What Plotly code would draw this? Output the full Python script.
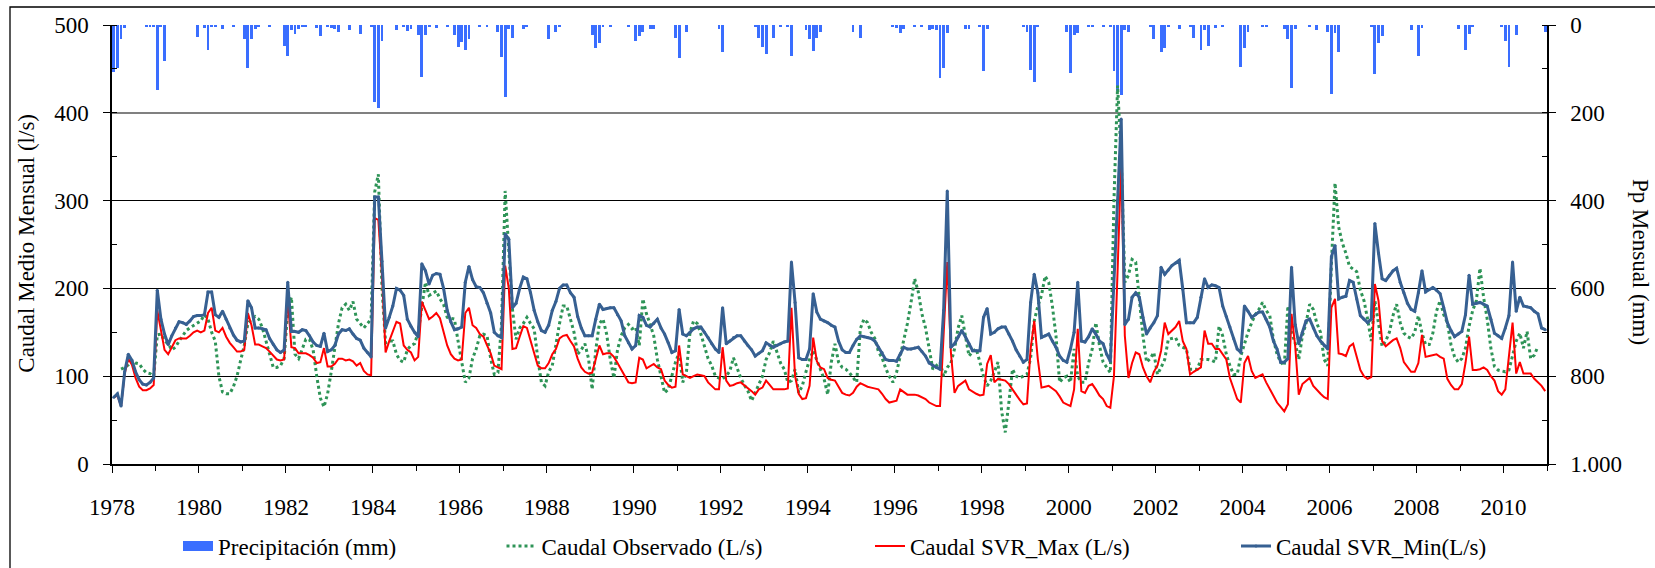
import plotly.graph_objects as go

# ---------------------------------------------------------------
# Monthly series, January 1978 - December 2010 (12 values per row)
# ---------------------------------------------------------------
years = list(range(1978, 2011))
month_pos = [y + (m + 0.5) / 12 for y in years for m in range(12)]

x_tick_years = list(range(1978, 2011, 2))
pp_tick_vals = [0, 200, 400, 600, 800, 1000]
pp_tick_text = ["0", "200", "400", "600", "800", "1.000"]

# Precipitación mensual (mm)
precip_mm = [
    107, 99, 33, 7, 0, 0, 0, 0, 0, 4, 4, 4,          # 1978
    149, 4, 83, 0, 0, 0, 0, 0, 0, 0, 0, 27,          # 1979
    0, 7, 58, 4, 4, 0, 10, 0, 0, 4, 0, 0,            # 1980
    31, 97, 33, 8, 4, 0, 0, 4, 0, 0, 0, 48,          # 1981
    70, 12, 21, 8, 4, 3, 0, 0, 6, 25, 0, 4,          # 1982
    7, 8, 15, 0, 0, 12, 0, 0, 20, 0, 0, 3,           # 1983
    176, 190, 37, 0, 0, 0, 11, 0, 5, 13, 8, 0,       # 1984
    23, 118, 23, 4, 0, 6, 0, 0, 3, 0, 23, 49,        # 1985
    38, 57, 32, 0, 0, 4, 0, 4, 0, 0, 17, 72,         # 1986
    165, 9, 29, 0, 0, 9, 4, 0, 0, 0, 0, 0,           # 1987
    33, 0, 15, 5, 0, 0, 0, 0, 0, 0, 0, 0,            # 1988
    23, 53, 40, 4, 0, 4, 0, 0, 0, 0, 4, 0,           # 1989
    37, 24, 15, 0, 9, 8, 0, 0, 0, 0, 0, 30,          # 1990
    76, 0, 15, 0, 0, 0, 0, 0, 0, 0, 0, 9,            # 1991
    61, 0, 0, 0, 0, 0, 0, 0, 0, 4, 29, 49,           # 1992
    65, 0, 30, 0, 4, 0, 4, 70, 0, 0, 0, 11,          # 1993
    32, 59, 30, 17, 0, 0, 0, 0, 0, 0, 0, 0,          # 1994
    17, 0, 29, 0, 0, 0, 0, 0, 0, 0, 0, 4,            # 1995
    6, 19, 9, 0, 0, 3, 0, 4, 0, 11, 8, 11,           # 1996
    120, 97, 19, 0, 0, 0, 0, 8, 10, 0, 0, 4,         # 1997
    105, 9, 0, 0, 0, 0, 0, 0, 0, 0, 0, 4,            # 1998
    15, 103, 129, 4, 0, 0, 0, 0, 0, 0, 0, 15,        # 1999
    110, 23, 19, 0, 0, 4, 4, 0, 0, 4, 0, 4,          # 2000
    105, 150, 160, 12, 15, 0, 0, 0, 0, 0, 4, 32,     # 2001
    0, 62, 53, 4, 0, 0, 9, 0, 0, 4, 29, 0,           # 2002
    57, 11, 47, 0, 6, 0, 5, 0, 0, 0, 0, 95,          # 2003
    53, 17, 0, 0, 0, 4, 5, 0, 0, 0, 0, 9,            # 2004
    32, 143, 8, 0, 0, 0, 4, 0, 11, 0, 0, 15,         # 2005
    158, 19, 62, 0, 0, 0, 0, 0, 0, 0, 0, 4,          # 2006
    112, 41, 25, 0, 0, 0, 0, 0, 0, 0, 12, 0,         # 2007
    70, 7, 0, 0, 0, 0, 0, 0, 0, 0, 0, 8,             # 2008
    0, 58, 21, 4, 0, 0, 0, 0, 0, 0, 0, 4,            # 2009
    37, 95, 0, 22, 0, 0, 0, 0, 0, 0, 0, 15,          # 2010
]

# Caudal observado (L/s)
caudal_observado = [
    None, None, 108, 110, 113, 118, 115, 114, 108, 104, 103, 100,   # 1978
    147, 148, 140, 137, 130, 133, 140, 146, 152, 155, 158, 160,     # 1979
    163, 170, 165, 150, 140, 100, 82, 80, 80, 88, 100, 118,         # 1980
    135, 160, 165, 168, 165, 155, 140, 122, 110, 110, 112, 120,     # 1981
    175, 190, 125, 120, 130, 142, 142, 130, 100, 75, 65, 80,        # 1982
    105, 130, 160, 178, 182, 175, 185, 165, 160, 155, 160, 165,     # 1983
    310, 330, 200, 138, 140, 140, 125, 118, 116, 130, 135, 137,     # 1984
    150, 180, 207, 192, 195, 197, 188, 182, 167, 166, 165, 140,     # 1985
    117, 93, 98, 120, 131, 146, 148, 146, 120, 102, 104, 160,       # 1986
    311, 245, 176, 142, 155, 160, 167, 160, 154, 120, 93, 89,       # 1987
    105, 112, 138, 160, 180, 180, 165, 150, 125, 130, 137, 120,     # 1988
    85, 130, 160, 165, 148, 119, 98, 130, 146, 155, 159, 154,       # 1989
    156, 135, 188, 171, 159, 146, 119, 100, 81, 85, 100, 116,       # 1990
    127, 93, 104, 150, 163, 160, 148, 135, 120, 112, 100, 98,       # 1991
    97, 100, 106, 121, 110, 98, 90, 83, 72, 81, 90, 100,            # 1992
    119, 127, 140, 127, 115, 108, 93, 95, 108, 81, 89, 105,         # 1993
    119, 129, 119, 108, 97, 79, 116, 137, 116, 110, 108, 104,       # 1994
    98, 93, 154, 165, 161, 150, 143, 128, 121, 109, 100, 93,        # 1995
    104, 123, 145, 160, 184, 211, 196, 171, 155, 130, 108, 112,     # 1996
    116, 100, 110, 115, 131, 155, 169, 146, 123, 128, 131, 116,     # 1997
    100, 89, 95, 105, 116, 60, 36, 70, 108, 100, 98, 100,           # 1998
    102, 121, 163, 180, 192, 214, 207, 180, 146, 93, 98, 100,       # 1999
    93, 131, 100, 93, 93, 115, 131, 161, 135, 116, 110, 104,        # 2000
    300, 431, 350, 207, 215, 233, 230, 188, 146, 116, 120, 127,     # 2001
    102, 110, 119, 142, 143, 144, 135, 133, 131, 108, 108, 108,     # 2002
    119, 119, 119, 118, 116, 157, 146, 125, 112, 102, 102, 123,     # 2003
    138, 150, 161, 170, 176, 184, 175, 169, 142, 125, 116, 112,     # 2004
    180, 150, 138, 119, 146, 160, 182, 176, 160, 150, 119, 112,     # 2005
    227, 320, 270, 252, 240, 225, 222, 219, 198, 186, 165, 140,     # 2006
    186, 157, 134, 140, 150, 169, 182, 161, 149, 145, 143, 150,     # 2007
    169, 149, 136, 136, 149, 174, 186, 170, 161, 136, 122, 116,     # 2008
    120, 132, 157, 175, 186, 223, 190, 165, 132, 111, 107, 106,     # 2009
    105, 107, 124, 140, 149, 132, 151, 120, 124, 134, None, None,   # 2010
]

# Caudal simulado SVR, máximo (L/s)
caudal_svr_max = [
    76, 78, 66, 103, 120, 113, 98, 88, 84, 84, 86, 90,              # 1978
    175, 150, 130, 125, 133, 141, 143, 143, 143, 146, 150, 152,     # 1979
    150, 152, 172, 178, 152, 150, 155, 145, 138, 133, 128, 128,     # 1980
    130, 172, 158, 136, 136, 134, 132, 128, 124, 119, 118, 119,     # 1981
    190, 133, 132, 126, 126, 126, 124, 121, 115, 116, 132, 111,     # 1982
    111, 114, 120, 120, 118, 119, 117, 112, 115, 106, 102, 101,     # 1983
    280, 278, 215, 127, 140, 150, 162, 160, 135, 130, 127, 118,     # 1984
    122, 185, 175, 165, 168, 172, 166, 150, 135, 125, 120, 118,     # 1985
    119, 172, 178, 158, 155, 148, 145, 135, 126, 112, 110, 108,     # 1986
    226, 200, 131, 132, 145, 157, 155, 140, 126, 112, 109, 109,     # 1987
    115, 125, 131, 143, 146, 147, 140, 134, 120, 110, 105, 103,     # 1988
    104, 118, 135, 125, 126, 126, 122, 115, 108, 100, 93, 92,       # 1989
    93, 121, 119, 109, 112, 114, 110, 108, 95, 90, 87, 88,          # 1990
    135, 102, 100, 98, 100, 102, 101, 100, 93, 89, 85, 85,          # 1991
    133, 95, 89, 90, 92, 93, 90, 87, 83, 79, 85, 87,                # 1992
    95, 90, 85, 85, 85, 85, 86, 178, 100, 80, 74, 75,               # 1993
    89, 144, 117, 110, 108, 98, 96, 95, 88, 81, 79, 78,             # 1994
    81, 88, 92, 90, 88, 87, 86, 85, 80, 74, 70, 71,                 # 1995
    72, 85, 82, 79, 79, 79, 78, 76, 74, 70, 68, 66,                 # 1996
    66, 150, 230, 127, 81, 89, 92, 95, 85, 82, 80, 78,              # 1997
    79, 114, 124, 93, 97, 96, 95, 91, 85, 78, 73, 68,               # 1998
    69, 131, 163, 119, 87, 88, 89, 86, 83, 77, 70, 68,              # 1999
    66, 85, 154, 83, 81, 89, 91, 85, 78, 74, 66, 64,                # 2000
    100, 220, 345, 146, 98, 115, 127, 125, 110, 100, 93, 105,       # 2001
    112, 129, 161, 148, 152, 156, 163, 140, 131, 102, 105, 108,     # 2002
    110, 152, 137, 137, 131, 131, 125, 119, 98, 86, 74, 70,         # 2003
    115, 123, 106, 98, 100, 102, 93, 85, 78, 70, 65, 60,            # 2004
    68, 171, 135, 79, 91, 95, 98, 89, 84, 80, 76, 74,               # 2005
    178, 188, 126, 125, 123, 134, 137, 122, 107, 100, 97, 99,       # 2006
    205, 186, 140, 134, 138, 141, 143, 132, 116, 110, 105, 105,     # 2007
    115, 147, 122, 123, 124, 125, 122, 120, 97, 90, 85, 85,         # 2008
    91, 115, 145, 107, 107, 108, 110, 107, 100, 95, 83, 79,         # 2009
    85, 120, 161, 103, 116, 103, 103, 103, 97, 93, 89, 83,          # 2010
]

# Caudal simulado SVR, mínimo (L/s)
caudal_svr_min = [
    76, 80, 66, 105, 125, 118, 105, 96, 91, 90, 93, 98,             # 1978
    198, 165, 148, 136, 146, 155, 162, 161, 159, 163, 168, 169,     # 1979
    169, 170, 196, 196, 170, 167, 174, 165, 155, 147, 141, 139,     # 1980
    140, 186, 178, 155, 155, 154, 153, 143, 136, 130, 127, 130,     # 1981
    207, 151, 151, 150, 153, 152, 146, 139, 135, 134, 149, 128,     # 1982
    130, 135, 148, 153, 152, 154, 148, 143, 141, 132, 127, 122,     # 1983
    304, 304, 231, 155, 167, 180, 200, 198, 192, 165, 157, 150,     # 1984
    145, 228, 220, 205, 215, 217, 216, 200, 175, 162, 153, 154,     # 1985
    156, 207, 225, 210, 202, 201, 195, 183, 172, 150, 146, 144,     # 1986
    262, 256, 178, 183, 200, 213, 211, 195, 175, 162, 152, 150,     # 1987
    158, 175, 185, 200, 204, 204, 195, 190, 168, 155, 146, 146,     # 1988
    146, 165, 182, 176, 177, 178, 178, 170, 163, 146, 138, 131,     # 1989
    135, 169, 167, 158, 156, 160, 165, 155, 148, 138, 127, 129,     # 1990
    176, 148, 146, 150, 154, 156, 156, 150, 144, 137, 131, 127,     # 1991
    178, 137, 140, 144, 146, 146, 140, 135, 130, 123, 126, 129,     # 1992
    138, 135, 133, 135, 137, 139, 140, 230, 184, 121, 119, 119,     # 1993
    131, 194, 173, 165, 163, 161, 158, 156, 140, 130, 127, 127,     # 1994
    135, 142, 146, 145, 144, 143, 140, 133, 127, 119, 118, 118,     # 1995
    117, 125, 133, 131, 131, 132, 133, 128, 123, 115, 112, 110,     # 1996
    108, 175, 311, 133, 137, 145, 152, 145, 137, 129, 129, 129,     # 1997
    167, 177, 148, 150, 154, 156, 156, 148, 140, 130, 123, 116,     # 1998
    119, 184, 216, 195, 144, 146, 148, 140, 133, 123, 118, 116,     # 1999
    131, 150, 207, 140, 139, 145, 154, 148, 140, 137, 125, 117,     # 2000
    200, 300, 393, 159, 165, 190, 195, 190, 167, 148, 155, 161,     # 2001
    169, 224, 216, 221, 226, 229, 232, 199, 161, 161, 161, 167,     # 2002
    190, 211, 201, 204, 203, 201, 180, 168, 156, 143, 131, 127,     # 2003
    180, 174, 167, 170, 173, 173, 165, 156, 140, 131, 116, 116,     # 2004
    120, 224, 159, 137, 150, 163, 165, 155, 146, 140, 135, 131,     # 2005
    236, 249, 188, 190, 191, 209, 207, 188, 169, 165, 161, 165,     # 2006
    274, 240, 211, 209, 215, 220, 223, 207, 195, 183, 176, 174,     # 2007
    195, 220, 196, 199, 201, 198, 194, 178, 161, 152, 145, 148,     # 2008
    151, 170, 215, 182, 183, 184, 182, 180, 165, 149, 146, 143,     # 2009
    155, 169, 230, 174, 190, 180, 179, 178, 174, 171, 155, 153,     # 2010
]

n = len(month_pos)
for s in (precip_mm, caudal_observado, caudal_svr_max, caudal_svr_min):
    assert len(s) == n, len(s)

# ---------------------------------------------------------------
FONT = "Liberation Serif"
FS = 23
W, H = 1655, 568
ML, MR, MT, MB = 112, 108, 25, 104
PW, PH = W - ML - MR, H - MT - MB

BAR_BLUE = "#3A6EFF"
OBS_GREEN = "#2E9457"
MAX_RED = "#FF0000"
MIN_BLUE = "#376092"


def px_x(p):
    return (p - ML) / PW


def px_y(p):
    return (MT + PH - p) / PH


fig = go.Figure()

# Rainfall bars hang from the top on the reversed right-hand axis
fig.add_trace(go.Bar(
    x=month_pos, y=precip_mm, yaxis="y", width=0.066,
    marker=dict(color=BAR_BLUE, line=dict(width=0)),
    showlegend=False, name="Precipitación (mm)",
))
# Legend swatch for the rainfall bars
fig.add_trace(go.Scatter(
    x=[None], y=[None], yaxis="y", mode="lines",
    line=dict(color=BAR_BLUE, width=13),
    name="Precipitación (mm)", legend="legend",
))
# Empty traces that attach the two grid-line axes to the plot
for ax in ("y3", "y4"):
    fig.add_trace(go.Scatter(x=[None], y=[None], yaxis=ax, mode="lines",
                             showlegend=False, hoverinfo="skip"))

fig.add_trace(go.Scatter(
    x=month_pos, y=caudal_observado, yaxis="y2", mode="lines",
    line=dict(color=OBS_GREEN, width=3, dash="dot"),
    connectgaps=False, name="Caudal Observado (L/s)", legend="legend2",
))
fig.add_trace(go.Scatter(
    x=month_pos, y=caudal_svr_max, yaxis="y2", mode="lines",
    line=dict(color=MAX_RED, width=2),
    name="Caudal SVR_Max (L/s)", legend="legend3",
))
fig.add_trace(go.Scatter(
    x=month_pos, y=caudal_svr_min, yaxis="y2", mode="lines+markers",
    line=dict(color=MIN_BLUE, width=3),
    marker=dict(size=3, color=MIN_BLUE),
    name="Caudal SVR_Min(L/s)", legend="legend4",
))

legend_common = dict(
    orientation="h", xanchor="left", yanchor="middle",
    bgcolor="rgba(0,0,0,0)", borderwidth=0,
    font=dict(family=FONT, size=FS, color="black"),
)
legend_y = px_y(546)
text_starts = [218, 541.5, 910, 1276]
legends = {}
for i, ts in enumerate(text_starts):
    key = "legend" if i == 0 else f"legend{i + 1}"
    legends[key] = dict(legend_common, x=px_x(ts - 40), y=legend_y)

fig.update_layout(
    width=W, height=H,
    margin=dict(l=ML, r=MR, t=MT, b=MB, pad=0, autoexpand=False),
    paper_bgcolor="white", plot_bgcolor="white",
    font=dict(family=FONT, size=FS, color="black"),
    bargap=0,
    **legends,
    xaxis=dict(
        range=[1978, 2011], tickvals=x_tick_years,
        ticktext=[str(v) for v in x_tick_years],
        ticks="outside", ticklen=7, tickwidth=1.3, tickcolor="black",
        minor=dict(dtick=1, tick0=1978, ticks="outside", ticklen=5,
                   tickwidth=1.3, tickcolor="black", showgrid=False),
        showline=True, linecolor="black", linewidth=2,
        showgrid=False, zeroline=False, ticklabelstandoff=14,
    ),
    # right-hand precipitation axis (base layer)
    yaxis=dict(
        range=[1000, 0], side="right", anchor="x",
        tickvals=pp_tick_vals, ticktext=pp_tick_text,
        ticks="outside", ticklen=7, tickwidth=1.3, tickcolor="black",
        minor=dict(dtick=100, ticks="inside", ticklen=5, tickwidth=1.3,
                   tickcolor="black", showgrid=False),
        showline=True, linecolor="black", linewidth=1.5,
        showgrid=False, zeroline=False, ticklabelstandoff=10,
    ),
    # left-hand discharge axis
    yaxis2=dict(
        range=[0, 500], side="left", overlaying="y", anchor="x",
        dtick=100, tick0=0,
        ticks="outside", ticklen=7, tickwidth=1.3, tickcolor="black",
        minor=dict(dtick=50, ticks="inside", ticklen=5, tickwidth=1.3,
                   tickcolor="black", showgrid=False),
        showline=True, linecolor="black", linewidth=1.5,
        showgrid=False, zeroline=False, ticklabelstandoff=10,
    ),
    # horizontal grid lines
    yaxis3=dict(
        range=[0, 500], overlaying="y", anchor="x", side="left",
        tickvals=[100, 200, 300], showticklabels=False, ticks="",
        showgrid=True, gridcolor="black", gridwidth=1,
        showline=False, zeroline=False,
    ),
    yaxis4=dict(
        range=[0, 500], overlaying="y", anchor="x", side="left",
        tickvals=[400, 500], showticklabels=False, ticks="",
        showgrid=True, gridcolor="#808080", gridwidth=1.5,
        showline=False, zeroline=False,
    ),
    annotations=[
        dict(text="Caudal Medio Mensual (l/s)", textangle=-90,
             xref="paper", yref="paper", x=px_x(26.7), y=px_y(243),
             xanchor="center", yanchor="middle", showarrow=False,
             font=dict(family=FONT, size=FS, color="black")),
        dict(text="Pp Mensual (mm)", textangle=90,
             xref="paper", yref="paper", x=px_x(1641), y=px_y(262),
             xanchor="center", yanchor="middle", showarrow=False,
             font=dict(family=FONT, size=FS, color="black")),
    ],
    shapes=[
        dict(type="rect", xref="paper", yref="paper",
             x0=px_x(10), x1=px_x(W + 40), y0=px_y(7), y1=px_y(H + 40),
             line=dict(color="black", width=1.3), fillcolor="rgba(0,0,0,0)",
             layer="below"),
    ],
)

fig.write_html("out.html")
